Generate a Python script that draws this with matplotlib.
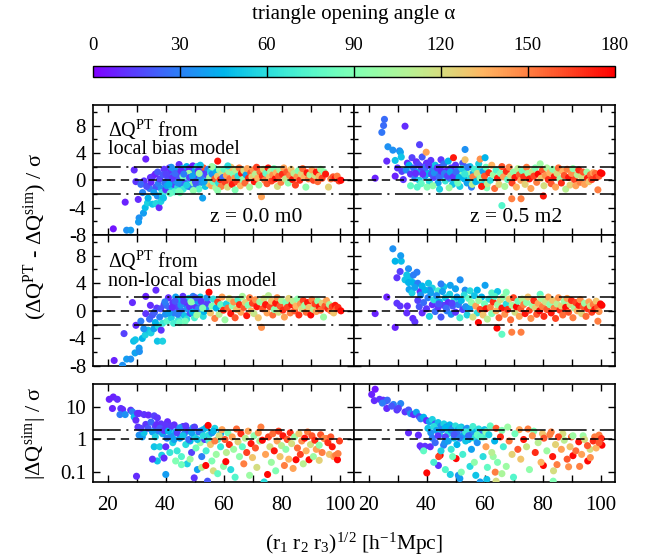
import matplotlib
matplotlib.use('Agg')
import matplotlib.pyplot as plt
import matplotlib.cm as cm
from matplotlib.colors import Normalize
from matplotlib.ticker import MultipleLocator, FixedLocator, FixedFormatter, NullLocator

plt.rcParams['font.family'] = 'Liberation Serif'
plt.rcParams['mathtext.fontset'] = 'custom'
plt.rcParams['mathtext.rm'] = 'Liberation Serif'
plt.rcParams['mathtext.it'] = 'Liberation Serif:italic'
plt.rcParams['axes.unicode_minus'] = False
plt.rcParams['lines.scale_dashes'] = False

# (x = (r1 r2 r3)^1/2, y, opening angle alpha)
top_left = [
    (22.0, -7.1, 5), (26.6, -7.3, 35), (28.0, -7.3, 38), (26.1, -3.2, 8), (29.2, 1.5, 10), (30.6, -2.8, 10),
    (30.9, -5.5, 35), (30.7, -6.1, 38), (29.8, -0.2, 12), (32.4, -4.8, 38), (33.0, -4.0, 48), (32.1, -1.8, 32),
    (32.6, -0.1, 12), (33.2, 3.1, 8), (33.8, -3.3, 55), (31.5, -0.6, 25), (34.0, -2.6, 45), (34.5, -1.2, 30),
    (33.5, -0.9, 18), (34.8, 0.4, 10), (35.0, -0.3, 10), (35.5, 0.5, 12), (35.5, -3.5, 50), (36.7, -1.0, 20),
    (36.7, -3.4, 58), (37.8, -4.0, 10), (37.2, -2.3, 35), (38.4, -3.1, 55), (39.0, -2.3, 55), (39.5, 1.6, 12),
    (36.0, -1.8, 40), (37.5, -0.5, 30), (38.0, 0.2, 15), (38.5, -1.2, 35), (39.2, 0.8, 20), (39.8, -0.4, 28),
    (36.5, 0.9, 8), (38.8, -1.8, 65), (40.1, -1.6, 70), (40.1, -1.4, 12), (41.3, 1.8, 10), (40.5, -0.8, 40),
    (40.8, 0.3, 18), (41.5, -0.2, 30), (41.8, 1.0, 12), (42.2, -1.2, 55), (42.5, 0.6, 25), (42.8, -0.6, 15),
    (43.2, 1.5, 40), (43.5, -0.1, 32), (43.8, 0.9, 10), (44.2, -1.0, 60), (44.5, 0.4, 20), (44.7, 2.3, 10),
    (44.9, 1.2, 48), (42.0, 1.9, 35), (43.0, -1.7, 75), (45.2, -0.5, 28), (45.5, 0.8, 15), (45.8, 1.7, 50),
    (46.1, -1.3, 65), (46.4, 0.1, 38), (46.7, 1.3, 12), (47.0, -0.2, 20), (47.3, 2.0, 45), (47.6, 0.5, 80),
    (47.9, -0.9, 35), (48.2, 1.7, 10), (48.5, 0.2, 55), (48.8, -1.0, 30), (49.1, 1.1, 22), (49.4, 2.1, 8),
    (49.7, -0.4, 95), (46.0, 0.6, 85), (48.0, 1.0, 100), (45.0, -1.8, 90), (50.0, 0.3, 15), (50.3, 1.5, 40),
    (50.6, -0.6, 25), (50.9, 2.0, 60), (51.2, 0.8, 10), (51.5, -1.3, 75), (51.8, 0.1, 45), (52.1, 1.2, 90),
    (52.4, -0.3, 35), (52.8, -2.6, 40), (53.1, 1.8, 160), (53.4, 0.5, 110), (53.7, -0.9, 50), (54.0, 1.0, 20),
    (54.3, 0.0, 65), (54.6, 1.6, 30), (54.9, -0.5, 125), (52.0, 2.2, 50), (53.0, 0.9, 12), (40.2, 0.9, 15),
    (41.2, -0.6, 45), (42.3, 0.3, 12), (43.3, 1.0, 25), (44.3, -0.4, 35), (45.3, 1.4, 10), (46.3, 0.9, 30),
    (47.3, -0.7, 55), (48.3, 0.4, 15), (49.3, 0.6, 40), (50.3, -0.2, 20), (51.3, 1.4, 12), (52.3, 0.6, 30),
    (53.3, -0.2, 40), (54.3, 0.8, 15), (41.6, -1.9, 80), (44.6, -1.6, 85), (49.6, -1.5, 95), (51.6, 1.0, 100),
    (55.6, 1.1, 90), (37.3, 1.2, 20), (39.3, -2.6, 50),
    (55.2, 0.4, 100), (55.5, 1.3, 55), (55.8, -0.8, 140), (56.1, 0.9, 35), (56.4, -0.2, 85), (56.7, 1.8, 70),
    (57.0, 0.2, 160), (57.3, -1.1, 105), (57.6, 1.2, 45), (57.9, 0.6, 130), (58.0, 2.8, 175), (58.3, -0.4, 60),
    (58.6, 1.5, 95), (58.9, 0.1, 170), (59.2, -0.9, 150), (59.5, 1.0, 115), (59.8, 0.4, 25), (56.0, 2.0, 100),
    (58.0, -1.5, 95), (60.2, 1.6, 80), (60.6, -0.3, 165), (61.0, 0.7, 140), (61.4, -1.0, 120), (61.8, 1.3, 100),
    (62.2, 0.2, 155), (62.6, 1.9, 130), (63.0, -0.6, 175), (63.4, 0.9, 90), (63.8, 0.3, 145), (64.2, 1.5, 110),
    (64.6, -0.2, 165), (65.0, 0.6, 60), (65.4, 1.8, 150), (65.8, -0.8, 135), (66.2, 1.0, 175), (66.6, 0.1, 95),
    (67.0, 1.4, 120), (67.4, -0.4, 155), (67.8, 0.8, 40), (68.2, 1.7, 140), (68.6, 0.3, 170), (69.0, -1.0, 105),
    (69.4, 1.1, 160), (69.8, 0.5, 125), (61.5, 2.1, 60), (64.0, -1.4, 90), (70.2, 1.5, 145), (70.6, -0.2, 175),
    (71.0, 0.9, 110), (71.4, 1.9, 165), (71.8, 0.3, 135), (72.2, -0.7, 100), (72.6, 1.2, 155), (73.1, -2.4, 140),
    (73.4, 0.6, 170), (73.8, 1.6, 120), (74.2, 0.0, 150), (74.6, 1.0, 80), (75.0, -0.5, 160), (75.4, 1.8, 175),
    (75.8, 0.5, 130), (76.2, 1.3, 105), (76.6, -0.1, 165), (77.0, 0.8, 145), (77.4, 1.7, 90), (77.8, 0.2, 175),
    (78.2, 1.1, 135), (78.6, -0.9, 120), (79.0, 0.6, 160), (79.4, 1.5, 100), (79.8, -0.3, 150), (80.3, 0.9, 170),
    (80.8, 1.8, 140), (81.3, 0.2, 115), (81.8, 1.2, 160), (82.3, -0.4, 95), (82.8, 0.7, 150), (83.3, 1.6, 130),
    (83.8, 0.1, 175), (84.3, 1.0, 110), (84.8, -0.7, 165), (85.3, 0.5, 145), (85.8, 1.4, 90), (86.3, 0.0, 170),
    (86.8, 0.9, 125), (87.3, 1.7, 155), (87.8, 0.4, 135), (88.4, -1.0, 95), (88.8, 1.1, 175), (89.3, 0.2, 150),
    (89.8, 0.8, 105), (90.5, 1.5, 140), (91.0, 0.0, 165), (91.5, 0.7, 120), (92.0, 1.2, 175), (92.5, -0.2, 155),
    (93.0, 0.6, 135), (93.5, 1.6, 100), (94.0, 0.3, 165), (94.7, 1.2, 95), (95.2, 0.9, 175), (96.2, -1.0, 125),
    (97.0, 0.2, 150), (97.8, 0.5, 160), (98.5, 0.3, 175), (99.2, 0.6, 150), (99.8, -0.1, 165), (100.5, 0.0, 178),
]

mid_left = [
    (22.3, -7.2, 8), (25.2, -7.9, 35), (26.6, -7.0, 38), (28.0, -7.0, 35), (25.7, -3.3, 15), (28.6, 1.2, 10),
    (33.2, 2.1, 8), (36.7, 3.0, 10), (33.2, -0.4, 12), (29.8, -2.1, 10), (29.0, -4.4, 48), (29.6, -4.2, 50),
    (30.9, -5.4, 38), (29.5, -6.1, 40), (31.0, -5.9, 35), (32.0, -4.0, 45), (33.0, -3.5, 55), (34.0, -2.8, 50),
    (35.0, -3.2, 55), (37.2, -4.4, 50), (39.0, -4.4, 55), (36.0, -2.6, 40), (37.5, -2.2, 60), (38.5, -2.8, 12),
    (31.5, -1.5, 30), (32.5, -2.6, 35), (34.5, -1.2, 25), (35.5, -0.6, 20), (36.5, -1.7, 45), (37.0, 0.4, 12),
    (38.0, -0.9, 30), (39.0, -1.8, 65), (39.5, 0.9, 15), (40.0, -0.5, 35), (40.5, -1.5, 75), (41.0, 1.9, 10),
    (41.5, 0.3, 20), (42.0, -1.0, 55), (42.5, 1.2, 12), (43.0, -0.3, 30), (43.5, 2.0, 40), (44.0, 0.6, 15),
    (44.5, -1.3, 65), (45.0, 1.5, 45), (45.5, 0.0, 25), (46.0, 2.1, 12), (46.5, -0.7, 50), (47.0, 1.0, 10),
    (47.5, 0.3, 35), (48.0, 1.8, 55), (48.5, -0.4, 20), (49.0, 0.8, 85), (49.5, 2.1, 30), (50.0, -1.0, 70),
    (50.5, 0.5, 12), (51.0, 1.4, 40), (51.5, -0.2, 95), (52.0, 2.0, 50), (52.5, 0.9, 25), (53.0, -0.8, 60),
    (53.5, 1.6, 105), (54.0, 0.2, 35), (54.5, 1.1, 15), (40.2, 0.8, 25), (41.2, -0.3, 40), (42.3, 0.5, 10),
    (43.3, 1.4, 20), (44.3, -0.5, 30), (45.3, 0.8, 35), (46.3, 1.4, 15), (47.3, -1.2, 60), (48.3, 0.6, 12),
    (49.3, -0.2, 45), (50.3, 1.9, 20), (51.3, 0.3, 30), (52.3, 1.4, 12), (53.3, -0.1, 45), (54.3, 1.9, 35),
    (42.8, -1.8, 70), (44.8, -1.7, 80), (46.8, -1.5, 85), (48.8, 1.3, 95), (50.8, -0.6, 100), (52.8, 0.4, 90),
    (38.3, 0.3, 18), (39.8, 1.3, 30), (36.2, -0.2, 22), (34.8, 0.8, 10),
    (55.0, 2.7, 178), (55.5, -0.3, 130), (56.0, 0.7, 90), (56.5, 1.7, 60), (57.0, -1.1, 150), (57.5, 0.4, 45),
    (58.0, 1.3, 165), (58.5, -0.5, 110), (59.0, 0.9, 80), (59.5, 2.0, 140), (60.0, 0.1, 170), (60.5, -1.3, 100),
    (61.0, 1.0, 55), (61.5, 0.4, 155), (62.0, 1.8, 120), (62.5, -0.4, 175), (63.0, 0.7, 95), (63.5, 1.3, 145),
    (64.0, -1.0, 160), (64.5, 0.2, 130), (65.0, 1.6, 75), (65.5, 0.9, 170), (66.0, -0.2, 140), (66.5, 2.1, 105),
    (67.0, 0.5, 160), (67.5, 1.2, 125), (68.0, -0.7, 175), (68.5, 0.8, 90), (69.0, 1.9, 150), (69.5, 0.0, 135),
    (70.0, 1.1, 165), (70.5, -0.4, 115), (71.0, 1.6, 145), (71.5, 0.6, 175), (72.0, -1.0, 130), (72.5, 1.3, 100),
    (73.1, -2.4, 145), (73.5, 0.3, 160), (74.0, 1.8, 120), (74.5, 0.9, 175), (75.0, -0.3, 140), (75.5, 2.2, 110),
    (76.0, 0.6, 165), (76.5, 1.4, 130), (77.0, -0.6, 155), (77.5, 0.2, 95), (78.0, 1.1, 175), (78.5, 1.9, 145),
    (79.0, -0.2, 120), (79.5, 0.7, 160), (80.0, 1.5, 105), (80.5, 0.1, 170), (81.0, -0.9, 140), (81.5, 1.2, 90),
    (82.0, 0.5, 165), (82.5, 1.8, 125), (83.0, -0.3, 150), (83.5, 0.9, 175), (84.0, 1.4, 110), (84.5, 0.0, 160),
    (85.0, 0.7, 135), (85.5, 1.7, 95), (86.0, -0.6, 170), (86.5, 1.0, 145), (87.0, 0.3, 120), (87.5, 1.5, 165),
    (88.0, 0.8, 100), (88.5, -0.2, 155), (89.0, 1.2, 175), (89.5, 0.5, 130), (90.1, -0.6, 178), (90.5, 1.6, 150),
    (91.0, 0.2, 110), (91.5, 1.0, 165), (92.0, -0.1, 140), (92.5, 1.4, 95), (93.0, 0.6, 175), (93.5, 0.1, 155),
    (94.0, 1.1, 125), (94.5, -0.9, 100), (95.0, 0.7, 160), (95.5, 1.5, 140), (96.0, 0.3, 170), (96.5, 0.9, 105),
    (97.0, 0.0, 150), (97.5, 0.6, 165), (98.0, -0.3, 130), (98.5, 0.8, 175), (99.0, 0.3, 155), (99.5, 0.5, 170),
    (100.5, 0.0, 178),
]

top_right = [
    (22.3, 0.3, 8), (25.5, 8.9, 25), (25.2, 8.0, 25), (24.6, 7.0, 28), (32.6, 7.9, 10), (26.3, 2.8, 10),
    (29.2, 0.6, 8), (26.7, 4.9, 35), (28.4, 4.4, 35), (30.7, 4.3, 32), (31.0, 4.1, 40), (37.6, 5.2, 15),
    (29.2, 2.9, 50), (31.3, 3.4, 50), (33.4, 2.5, 10), (30.0, 1.8, 12), (31.5, 1.3, 15), (32.0, 0.1, 12),
    (33.0, 1.5, 35), (34.0, 2.2, 45), (34.5, 0.9, 12), (35.0, 3.3, 15), (35.5, 1.8, 25), (36.0, 0.3, 30),
    (36.5, 2.7, 10), (37.0, 1.2, 40), (37.5, 0.0, 55), (38.0, 2.0, 12), (38.2, -0.5, 80), (38.5, 3.4, 20),
    (39.0, 1.5, 15), (39.5, 0.6, 35), (39.9, 4.1, 140), (40.0, 2.5, 10), (40.5, 1.0, 45), (41.0, -0.2, 60),
    (41.5, 2.9, 12), (42.0, 1.7, 30), (42.5, 0.4, 15), (43.0, 2.2, 50), (43.5, 1.0, 10), (44.0, -0.4, 40),
    (44.5, -1.3, 55), (44.8, 1.9, 20), (45.0, 3.0, 12), (45.5, 0.7, 35), (46.0, 2.4, 25), (46.5, -0.1, 65),
    (47.0, 1.4, 10), (47.5, 2.8, 45), (48.0, 0.3, 30), (48.5, 1.8, 15), (49.0, -0.6, 50), (49.3, 3.3, 175),
    (49.5, 1.0, 40), (50.0, 2.2, 12), (50.5, 0.0, 70), (51.0, 1.5, 35), (51.5, -0.9, 55), (52.0, 0.8, 90),
    (52.5, 2.5, 20), (53.0, 0.2, 45), (53.3, 4.5, 35), (53.3, 3.0, 130), (53.5, 1.4, 60), (54.0, -0.4, 40),
    (54.5, 0.9, 100), (55.0, 2.0, 50), (55.5, -1.0, 30), (36.2, 1.0, 10), (37.2, 2.3, 15), (38.7, 0.9, 10),
    (39.7, 1.9, 25), (40.7, 2.2, 12), (41.7, 0.9, 20), (42.7, 1.1, 35), (43.7, 1.8, 12), (44.3, 0.5, 25),
    (45.2, 1.3, 10), (46.2, 1.0, 30), (47.2, 0.6, 15), (48.2, 1.2, 40), (49.2, 0.5, 12), (50.2, 1.2, 25),
    (51.2, 0.4, 45), (52.2, 1.7, 55), (53.2, 0.9, 65), (54.2, 1.9, 30), (55.2, 0.3, 60), (56.2, 1.1, 40),
    (57.2, 0.2, 55), (58.2, 1.3, 65), (59.2, -0.3, 60), (34.5, -0.8, 80), (36.8, -1.0, 75), (40.2, -1.0, 90),
    (42.2, -0.8, 95), (47.8, -1.1, 100), (50.8, -0.4, 85), (55.8, -0.6, 110), (60.8, -1.1, 90),
    (56.0, 0.5, 150), (56.5, 1.6, 70), (57.0, -0.2, 45), (57.5, 1.0, 120), (58.0, 2.4, 55), (58.5, 3.1, 145),
    (58.5, 0.3, 95), (59.0, -0.9, 175), (59.5, 1.3, 40), (60.2, 3.3, 45), (60.0, 0.6, 160), (60.5, 1.9, 85),
    (61.0, -0.5, 110), (61.5, 1.1, 170), (62.0, 0.0, 60), (62.5, 2.2, 135), (63.0, 0.8, 100), (63.5, -1.2, 155),
    (64.0, 1.5, 75), (64.5, 0.3, 175), (65.0, -0.6, 125), (65.5, 1.0, 90), (66.0, -3.7, 75), (66.0, 2.0, 160),
    (66.5, 0.5, 140), (67.0, -0.9, 105), (67.5, 1.3, 170), (68.0, 0.1, 80), (68.5, 1.9, 150), (69.0, 0.7, 120),
    (69.4, -2.7, 150), (69.5, -0.4, 165), (70.0, 1.2, 95), (70.5, 0.4, 175), (71.0, -1.0, 135), (71.5, 1.7, 110),
    (72.0, 0.8, 160), (72.6, -2.7, 150), (72.5, 0.0, 140), (73.0, 1.4, 85), (73.5, 0.5, 170), (74.0, -0.6, 125),
    (74.5, 1.9, 150), (75.0, 1.0, 100), (75.5, 0.2, 175), (76.0, -1.2, 140), (76.5, 1.3, 115), (77.0, 0.6, 165),
    (77.5, 1.8, 90), (78.0, -0.3, 150), (78.5, 0.9, 178), (79.2, 2.4, 100), (79.5, 0.3, 130), (80.3, -2.3, 175),
    (80.0, 1.5, 160), (80.5, -0.8, 120), (81.0, 0.7, 145), (81.5, 1.8, 105), (82.0, 0.1, 170), (82.5, 1.1, 135),
    (83.0, -0.5, 160), (83.5, 1.6, 95), (84.0, 0.5, 175), (84.5, -1.0, 140), (85.0, 1.0, 120), (85.5, 1.8, 155),
    (86.0, 0.2, 100), (86.5, -0.4, 170), (87.0, 1.3, 135), (87.5, 0.7, 160), (88.0, -1.3, 110), (88.5, 1.6, 150),
    (89.0, 0.4, 175), (89.5, -0.7, 125), (90.0, 1.0, 145), (90.5, 1.7, 95), (91.0, 0.1, 165), (91.5, -0.8, 140),
    (92.0, 0.8, 110), (92.5, 1.5, 170), (93.0, -0.3, 150), (93.5, 0.5, 120), (94.0, 1.2, 160), (94.5, -0.6, 140),
    (95.3, 1.2, 100), (95.5, 0.3, 175), (96.0, -0.2, 130), (96.5, 0.8, 155), (97.0, 0.1, 165), (97.5, 1.1, 140),
    (98.2, 1.0, 155), (98.5, 0.4, 170), (99.1, -1.4, 150), (99.5, 0.6, 160), (100.0, 1.1, 178), (100.5, 1.0, 178),
]

mid_right = [
    (28.4, 9.0, 35), (29.2, 7.2, 45), (31.3, 7.2, 48), (31.1, 8.0, 38), (30.9, 5.7, 15), (29.8, 4.8, 12),
    (33.8, 6.1, 35), (33.2, 5.2, 50), (34.4, 4.9, 50), (32.6, 4.5, 50), (35.5, 5.2, 30), (36.7, 5.6, 30),
    (33.8, 4.1, 45), (35.3, 4.1, 45), (26.3, 2.0, 8), (22.3, -0.4, 8), (29.2, -2.4, 8), (29.8, 1.1, 12),
    (30.9, 0.7, 12), (33.4, 0.7, 10), (33.2, -0.3, 10), (35.3, -1.1, 10), (36.0, -1.6, 12), (37.0, 4.0, 30),
    (37.8, 2.8, 10), (40.7, 4.0, 50), (48.2, 3.7, 40), (51.6, 4.5, 35), (53.3, 3.0, 35), (60.2, 3.7, 40),
    (38.5, 3.6, 45), (42.0, 3.3, 55), (44.0, 2.9, 70), (46.0, 3.5, 50), (50.0, 3.2, 40), (55.0, 2.9, 60),
    (57.5, 3.0, 45), (62.5, 2.6, 75), (64.5, 2.8, 50), (67.5, 2.7, 90), (41.0, 3.0, 35), (45.0, 3.9, 30),
    (34.0, 3.1, 40), (35.0, 2.6, 55), (36.0, 3.4, 40), (37.0, 1.5, 15), (37.5, 0.6, 20), (38.0, 2.3, 35),
    (38.5, -0.3, 10), (39.0, 1.2, 25), (39.5, 3.0, 45), (40.0, 0.3, 12), (40.5, 1.9, 30), (41.0, -0.8, 55),
    (41.5, 2.6, 40), (42.0, 0.9, 10), (42.5, 1.6, 60), (43.0, -0.1, 25), (43.5, 2.2, 35), (44.0, 0.5, 12),
    (44.5, 1.3, 45), (45.0, -0.9, 20), (45.5, 2.8, 40), (46.0, 0.8, 15), (46.5, 1.9, 50), (47.0, 0.0, 30),
    (47.5, 1.2, 10), (48.0, 2.4, 55), (48.5, -0.5, 35), (49.0, 0.7, 20), (49.5, 1.6, 65), (50.0, -0.2, 12),
    (50.5, 2.0, 40), (51.0, 0.9, 30), (51.5, -1.0, 70), (52.0, 1.5, 45), (52.5, 0.2, 15), (53.0, 2.3, 60),
    (53.5, 0.6, 35), (54.0, -0.6, 55), (54.5, 1.8, 80), (55.0, 0.4, 40), (55.5, 1.2, 95), (56.5, 2.2, 50),
    (57.5, -0.3, 60), (59.0, 2.0, 45), (61.5, 1.7, 60), (44.2, 1.0, 20), (46.8, 0.4, 25), (48.8, 1.1, 15),
    (66.0, -3.4, 80), (69.4, -3.1, 150), (72.6, -3.1, 150), (64.3, -2.5, 178), (57.9, -1.7, 178),
    (56.0, -0.9, 120), (57.0, 0.7, 140), (58.0, 1.5, 100), (58.5, 0.2, 165), (59.5, -0.6, 130), (60.0, 1.0, 85),
    (60.5, 0.3, 175), (61.0, -1.2, 110), (62.0, 0.5, 150), (62.5, -0.4, 90), (63.0, 1.3, 170), (63.5, 2.1, 75),
    (64.0, 0.0, 135), (64.5, 0.9, 100), (65.0, -1.0, 160), (65.5, 1.6, 120), (66.0, 0.4, 175), (66.5, 2.0, 95),
    (67.0, -0.5, 145), (67.5, 1.0, 60), (68.0, 0.2, 170), (68.5, 1.7, 130), (69.0, -1.3, 155), (69.5, 0.8, 105),
    (70.0, 1.9, 165), (70.5, -0.2, 120), (71.0, 0.6, 178), (71.5, 1.4, 85), (72.0, -0.8, 140), (72.5, 0.3, 160),
    (73.0, 1.7, 110), (73.5, 0.9, 150), (74.0, -0.4, 175), (74.5, 1.2, 95), (75.0, 2.0, 130), (75.5, 0.1, 165),
    (76.0, -1.1, 145), (76.5, 0.8, 100), (77.0, 1.5, 170), (77.5, 0.4, 125), (78.0, -0.5, 160), (78.5, 1.1, 140),
    (79.0, 0.0, 178), (79.2, 2.4, 80), (79.5, 1.8, 105), (80.0, 0.6, 150), (80.5, -0.8, 170), (81.0, 1.3, 115),
    (81.5, 0.2, 160), (82.0, 2.0, 140), (82.5, 0.9, 95), (83.0, -0.3, 175), (83.5, 1.5, 130), (84.0, 0.4, 150),
    (84.5, -1.1, 165), (85.0, 1.0, 110), (85.5, 1.9, 145), (86.0, 0.1, 170), (86.5, 0.7, 125), (87.0, -0.6, 155),
    (87.5, 1.4, 100), (88.0, 0.5, 178), (88.5, 1.8, 140), (89.0, -0.2, 160), (89.5, 0.9, 120), (90.0, 1.5, 170),
    (90.5, -1.0, 150), (91.0, 0.4, 105), (91.5, 1.2, 165), (92.0, 0.0, 135), (92.5, 0.8, 175), (93.0, 1.6, 145),
    (93.5, -0.4, 125), (94.0, 0.6, 160), (94.5, 1.1, 100), (95.0, -0.8, 155), (95.5, 0.3, 170), (96.0, 1.3, 140),
    (96.5, 0.7, 115), (97.0, -0.2, 165), (97.5, 0.9, 150), (98.0, 0.2, 175), (98.5, 1.4, 130), (99.0, 0.5, 160),
    (99.1, -1.5, 150), (99.5, -0.1, 145), (100.0, 1.0, 178), (100.5, 0.8, 178),
]

bottom_left = [
    (20.6, 17, 8), (22.0, 20, 8), (23.4, 17, 10), (21.7, 8.9, 8), (24.6, 8.9, 12), (25.2, 8.3, 10),
    (24.3, 5.8, 30), (26.1, 5.8, 35), (28.0, 7.9, 12), (28.6, 7.0, 30), (29.2, 4.9, 48), (30.3, 6.3, 12),
    (30.9, 6.3, 10), (29.8, 3.9, 10), (32.6, 5.8, 12), (34.1, 5.6, 10), (33.2, 2.9, 12), (36.1, 5.3, 15),
    (37.2, 4.6, 12), (30.9, 1.36, 35), (32.0, 1.2, 38), (32.6, 1.6, 50), (30.5, 2.4, 12), (31.5, 2.2, 15),
    (36.1, 0.6, 50), (38.0, 0.6, 55), (40.1, 0.6, 10), (37.2, 0.22, 50), (38.7, 0.33, 55), (35.5, 0.25, 12),
    (39.5, 0.27, 10), (40.1, 0.085, 38), (30.0, 0.075, 10), (40.7, 3.5, 10), (40.1, 2.7, 12), (34.0, 2.2, 20),
    (35.0, 3.4, 25), (36.5, 2.5, 15), (37.5, 1.8, 30), (38.5, 3.0, 12), (39.0, 1.5, 40), (41.5, 2.2, 15),
    (42.0, 1.3, 35), (42.5, 0.8, 55), (43.0, 2.8, 10), (43.5, 1.7, 45), (44.0, 0.45, 65), (44.5, 2.1, 20),
    (45.0, 1.1, 40), (45.5, 0.3, 75), (46.0, 2.5, 12), (46.5, 1.5, 30), (47.0, 0.7, 60), (47.5, 0.18, 55),
    (48.0, 1.9, 20), (48.5, 0.9, 45), (49.0, 0.4, 15), (49.5, 2.3, 35), (49.9, 0.067, 12), (50.0, 1.2, 55),
    (50.5, 0.55, 85), (51.0, 0.12, 40), (51.5, 1.7, 25), (52.0, 0.8, 100), (52.5, 0.3, 30), (53.0, 2.0, 50),
    (53.5, 1.0, 15), (54.0, 0.45, 70), (54.5, 0.053, 20), (55.0, 1.4, 60), (35.5, 1.7, 40), (36.5, 1.2, 55),
    (37.0, 2.9, 10), (38.0, 2.2, 20), (39.5, 1.9, 12), (40.5, 1.1, 30), (41.0, 1.8, 45), (42.0, 2.6, 12),
    (43.0, 1.0, 40), (44.0, 1.6, 15), (45.0, 2.3, 35), (46.0, 1.3, 50), (47.0, 2.6, 12), (48.0, 1.0, 25),
    (49.0, 1.6, 40), (50.0, 2.4, 15), (51.0, 1.0, 50), (52.0, 1.8, 30), (53.0, 1.3, 60), (54.0, 2.3, 45),
    (55.0, 0.9, 70), (56.0, 1.6, 35), (57.0, 2.2, 55), (58.0, 1.0, 75), (59.0, 1.5, 40), (45.5, 0.17, 85),
    (48.5, 0.25, 100), (52.5, 0.14, 110), (56.5, 0.11, 120), (41.5, 0.4, 65), (43.5, 0.22, 90),
    (53.9, 0.16, 178), (54.7, 2.7, 178), (55.5, 0.7, 130), (56.0, 0.22, 90), (56.5, 1.8, 45), (57.0, 0.9, 150),
    (57.5, 0.35, 100), (58.0, 0.09, 80), (58.5, 1.3, 120), (59.0, 0.6, 65), (59.5, 2.0, 140), (60.0, 0.15, 95),
    (60.5, 1.0, 160), (60.8, 0.21, 178), (61.0, 0.4, 110), (61.5, 1.6, 85), (62.0, 0.7, 170), (62.5, 0.12, 60),
    (63.0, 1.2, 140), (63.5, 0.5, 100), (64.0, 0.07, 75), (64.5, 2.1, 155), (65.0, 0.85, 125), (65.5, 0.3, 95),
    (66.0, 1.5, 170), (66.5, 0.6, 80), (67.0, 0.18, 150), (67.5, 1.1, 110), (68.0, 0.4, 165), (68.5, 1.8, 140),
    (69.0, 0.08, 100), (69.5, 0.75, 175), (70.0, 0.28, 130), (70.5, 1.3, 95), (71.0, 0.55, 160), (71.5, 0.14, 120),
    (72.0, 1.6, 145), (72.5, 0.9, 105), (72.9, 2.4, 150), (73.4, 0.95, 178), (74.0, 0.05, 60), (74.5, 0.35, 140),
    (75.2, 0.085, 178), (75.5, 1.2, 165), (76.0, 0.6, 120), (76.5, 0.2, 100), (77.0, 1.5, 155), (77.5, 0.45, 175),
    (78.0, 0.11, 90), (78.5, 0.9, 140), (79.0, 1.8, 165), (79.5, 0.3, 130), (80.0, 0.65, 110), (80.5, 1.3, 175),
    (81.0, 0.16, 150), (81.5, 0.5, 95), (82.0, 1.0, 160), (82.5, 0.25, 135), (83.0, 1.6, 170), (83.5, 0.75, 120),
    (84.0, 0.13, 140), (84.5, 1.2, 100), (85.0, 0.24, 178), (85.5, 0.55, 155), (86.0, 1.5, 130), (86.5, 0.35, 165),
    (87.0, 0.9, 145), (87.5, 0.18, 110), (88.0, 1.1, 175), (88.5, 0.45, 135), (89.0, 1.7, 150), (89.5, 0.24, 178),
    (90.0, 0.7, 120), (90.5, 1.3, 160), (91.0, 0.3, 100), (91.5, 0.95, 170), (92.0, 0.5, 140), (93.0, 0.23, 125),
    (93.0, 0.67, 95), (93.5, 1.4, 160), (94.0, 0.4, 150), (94.7, 1.07, 145), (95.5, 1.07, 150), (96.0, 0.8, 170),
    (96.5, 0.35, 130), (97.0, 1.2, 160), (97.5, 0.6, 175), (98.0, 0.3, 140), (98.7, 0.33, 150), (99.3, 0.24, 178),
    (99.5, 0.37, 150), (100.0, 0.9, 165),
]

bottom_right = [
    (22.3, 34.6, 5), (21.1, 23.9, 8), (22.0, 15.5, 10), (23.8, 17, 12), (25.1, 16, 10), (26.0, 15, 15),
    (26.5, 16, 25), (24.8, 13, 30), (26.3, 8.9, 10), (28.6, 11.8, 30), (31.1, 12.6, 32), (29.8, 8.0, 12),
    (30.3, 9.0, 15), (28.0, 10.5, 20), (32.6, 7.0, 12), (33.8, 8.0, 20), (34.5, 6.2, 35), (35.5, 5.8, 10),
    (36.5, 6.8, 40), (37.5, 5.0, 15), (38.0, 4.3, 30), (39.0, 4.8, 45), (40.0, 3.8, 10), (41.0, 3.5, 40),
    (42.0, 4.1, 55), (43.0, 3.0, 20), (44.0, 3.3, 50), (45.0, 2.6, 35), (46.0, 3.0, 55), (47.0, 2.4, 12),
    (48.0, 2.8, 45), (49.0, 2.2, 30), (50.0, 2.6, 60), (51.0, 2.0, 40), (52.0, 2.4, 50), (53.0, 1.9, 15),
    (54.0, 2.2, 35), (55.0, 1.8, 55), (56.0, 2.5, 70), (57.0, 1.7, 45), (58.0, 2.1, 60), (59.0, 1.6, 25),
    (60.0, 2.0, 50), (62.0, 2.6, 80), (64.0, 2.2, 160), (66.0, 1.9, 90), (68.0, 2.4, 100), (72.0, 2.0, 140),
    (75.0, 2.1, 150), (77.0, 1.8, 90), (80.0, 1.5, 130), (83.0, 1.7, 150), (87.0, 1.5, 120), (90.0, 1.2, 160),
    (94.0, 1.3, 100), (98.0, 1.2, 150), (99.5, 1.36, 150), (100.3, 1.07, 170),
    (33.8, 1.6, 10), (37.2, 1.36, 10), (37.8, 0.64, 10), (39.5, 0.62, 12), (41.3, 0.6, 10), (38.4, 0.56, 10),
    (44.1, 0.16, 12), (45.9, 0.67, 30), (46.3, 0.8, 35), (40.1, 0.095, 178), (44.7, 0.33, 178), (44.2, 0.3, 165),
    (50.2, 0.26, 178), (51.0, 0.08, 35), (51.5, 0.064, 38), (48.2, 0.085, 55), (58.5, 0.05, 38), (60.8, 0.06, 50),
    (63.7, 0.1, 150), (64.0, 0.053, 120), (80.3, 0.16, 178), (90.5, 0.32, 178), (95.6, 0.22, 178),
    (92.8, 0.15, 150), (89.0, 0.146, 145), (85.0, 0.17, 150), (83.8, 0.11, 120), (83.7, 0.053, 90),
    (100.5, 0.67, 178), (96.4, 0.5, 120),
    (40.5, 2.2, 50), (41.5, 1.6, 35), (42.5, 2.5, 60), (43.5, 1.9, 40), (44.5, 1.4, 55), (45.5, 2.0, 30),
    (46.5, 2.3, 45), (47.5, 1.5, 60), (48.5, 1.9, 35), (49.5, 1.1, 50), (50.5, 1.6, 25), (51.5, 2.3, 55),
    (52.5, 1.3, 40), (53.5, 1.7, 65), (54.5, 1.0, 45), (55.5, 1.4, 35), (56.5, 1.1, 60), (57.5, 1.4, 80),
    (59.5, 1.2, 70), (60.5, 1.7, 95), (39.0, 0.45, 80), (42.5, 0.2, 70), (46.5, 0.12, 75), (49.0, 0.3, 85),
    (52.0, 0.1, 90), (55.0, 0.15, 60), (57.0, 0.08, 50), (61.0, 0.14, 80), (63.0, 0.3, 100), (66.0, 0.09, 105),
    (70.0, 0.07, 75),
    (42.0, 1.1, 30), (43.0, 0.8, 25), (44.0, 1.3, 12), (45.0, 0.45, 55), (46.5, 1.2, 15), (47.5, 0.9, 40),
    (48.5, 0.5, 65), (49.5, 1.4, 20), (50.5, 0.7, 45), (51.5, 1.1, 30), (52.5, 0.35, 70), (53.5, 0.9, 50),
    (54.5, 1.3, 25), (55.5, 0.5, 40), (56.5, 0.2, 95), (57.5, 0.8, 35), (58.5, 1.2, 75), (59.5, 0.3, 60),
    (60.5, 0.6, 140), (61.5, 1.4, 55), (62.5, 0.4, 110), (63.5, 0.9, 45), (64.5, 0.2, 90), (65.5, 1.2, 170),
    (66.5, 0.6, 70), (67.5, 0.15, 100), (68.5, 0.9, 150), (69.5, 0.35, 125), (70.5, 1.5, 85), (71.5, 0.5, 160),
    (72.5, 0.25, 130), (73.5, 1.0, 175), (74.5, 0.6, 115), (75.5, 0.12, 95), (76.5, 1.3, 145), (77.5, 0.4, 170),
    (78.5, 0.8, 110), (79.5, 0.2, 135), (80.5, 1.1, 160), (81.5, 0.45, 100), (82.5, 1.4, 150), (83.5, 0.3, 175),
    (84.5, 0.7, 125), (85.5, 1.2, 165), (86.5, 0.5, 140), (87.5, 0.95, 110), (88.5, 0.25, 160), (89.5, 0.6, 130),
    (90.5, 1.3, 100), (91.5, 0.45, 155), (92.5, 0.85, 175), (93.5, 0.35, 140), (94.5, 1.0, 120), (95.5, 0.65, 160),
    (96.5, 0.28, 145), (97.5, 0.9, 170), (98.5, 0.55, 135), (99.5, 0.8, 160),
]

alpha_ticks = [0, 30, 60, 90, 120, 150, 180]

W, H = 653, 558
fig = plt.figure(figsize=(W / 100, H / 100), dpi=100)


def box(x0, y0, x1, y1):
    # pixel box -> figure fraction
    return [x0 / W, 1 - y1 / H, (x1 - x0) / W, (y1 - y0) / H]


cmap = plt.get_cmap('rainbow')
norm = Normalize(0, 180)
dashdot = (0, (20, 4, 1.5, 4))
dashed = (0, (6, 4))
fs = 15


def style(ax, log=False, ylabels=True, xlabels=False):
    ax.set_xlim(15, 105)
    ax.xaxis.set_major_locator(MultipleLocator(20))
    ax.xaxis.set_minor_locator(MultipleLocator(10))
    if log:
        ax.set_yscale('log')
        ax.set_ylim(0.05, 50)
        ax.yaxis.set_major_locator(FixedLocator([0.1, 1, 10]))
        ax.yaxis.set_major_formatter(FixedFormatter(['0.1', '1', '10']))
        ax.yaxis.set_minor_locator(NullLocator())
    else:
        ax.set_ylim(-8, 11)
        ax.yaxis.set_major_locator(FixedLocator([-8, -4, 0, 4, 8]))
        ax.yaxis.set_minor_locator(FixedLocator([-6, -2, 2, 6, 10]))
    ax.tick_params(which='both', direction='in', top=True, right=True, width=1,
                   labelsize=fs, labelleft=ylabels, labelbottom=xlabels)
    ax.tick_params(which='major', length=5)
    ax.tick_params(axis='x', which='minor', length=5)
    ax.tick_params(axis='y', which='minor', length=3)
    ax.tick_params(axis='x', pad=10)
    ax.tick_params(axis='y', pad=5)
    for s in ax.spines.values():
        s.set_linewidth(1.2)


def draw(ax, pts, lines):
    xs = [p[0] for p in pts]
    ys = [p[1] for p in pts]
    al = [p[2] for p in pts]
    ax.scatter(xs, ys, c=al, cmap=cmap, norm=norm, s=26, linewidths=0, zorder=3)
    for val, ls in lines:
        ax.axhline(val, color='k', lw=1.1, ls=ls, zorder=4)


diff_lines = [(2, dashdot), (-2, dashdot), (0, dashed)]
abs_lines = [(2, dashdot), (1, dashed)]

ax_tl = fig.add_axes(box(93, 105, 354, 235))
ax_tr = fig.add_axes(box(354, 105, 615, 235))
ax_ml = fig.add_axes(box(93, 235, 354, 366))
ax_mr = fig.add_axes(box(354, 235, 615, 366))
ax_bl = fig.add_axes(box(93, 384, 354, 482))
ax_br = fig.add_axes(box(354, 384, 615, 482))

draw(ax_tl, top_left, diff_lines)
draw(ax_tr, top_right, diff_lines)
draw(ax_ml, mid_left, diff_lines)
draw(ax_mr, mid_right, diff_lines)
draw(ax_bl, bottom_left, abs_lines)
draw(ax_br, bottom_right, abs_lines)

style(ax_tl)
style(ax_tr, ylabels=False)
style(ax_ml)
style(ax_mr, ylabels=False)
style(ax_bl, log=True, xlabels=True)
style(ax_br, log=True, ylabels=False, xlabels=True)

ann = 14.5
ax_tl.text(0.057, 0.756, 'ΔQ$^{\\mathrm{PT}}$ from', transform=ax_tl.transAxes, fontsize=ann, va='baseline')
ax_tl.text(0.057, 0.62, 'local bias model', transform=ax_tl.transAxes, fontsize=ann, va='baseline')
ax_ml.text(0.057, 0.75, 'ΔQ$^{\\mathrm{PT}}$ from', transform=ax_ml.transAxes, fontsize=ann, va='baseline')
ax_ml.text(0.057, 0.612, 'non-local bias model', transform=ax_ml.transAxes, fontsize=ann, va='baseline')
ax_tl.text(0.448, 0.102, 'z = 0.0 m0', transform=ax_tl.transAxes, fontsize=15.5, va='baseline')
ax_tr.text(0.444, 0.102, 'z = 0.5 m2', transform=ax_tr.transAxes, fontsize=15.5, va='baseline')

fig.text(35 / W, 1 - 236 / H, '(ΔQ$^{\\mathrm{PT}}$ - ΔQ$^{\\mathrm{sim}}$) / σ', rotation=90,
         ha='center', va='center', fontsize=16)
fig.text(35 / W, 1 - 433 / H, '|ΔQ$^{\\mathrm{sim}}$| / σ', rotation=90,
         ha='center', va='center', fontsize=16)
fig.text(354 / W, 1 - 544 / H, '(r$_1$ r$_2$ r$_3$)$^{1/2}$ [h$^{-1}$Mpc]',
         ha='center', va='center', fontsize=15.5)

# colour bar for the opening angle
cax = fig.add_axes(box(92.7, 66, 614.7, 76.7))
cb = fig.colorbar(cm.ScalarMappable(norm=norm, cmap=cmap), cax=cax, orientation='horizontal')
cb.set_ticks(alpha_ticks)
cax.xaxis.set_ticks_position('top')
cax.tick_params(length=0, pad=9, labelsize=13.5)
cb.outline.set_linewidth(1)
for v in alpha_ticks[1:-1]:
    cax.axvline(v, color='k', lw=1)
fig.text(354 / W, 1 - 15 / H, 'triangle opening angle α', ha='center', va='center', fontsize=15)

fig.savefig('out.png', dpi=100)
